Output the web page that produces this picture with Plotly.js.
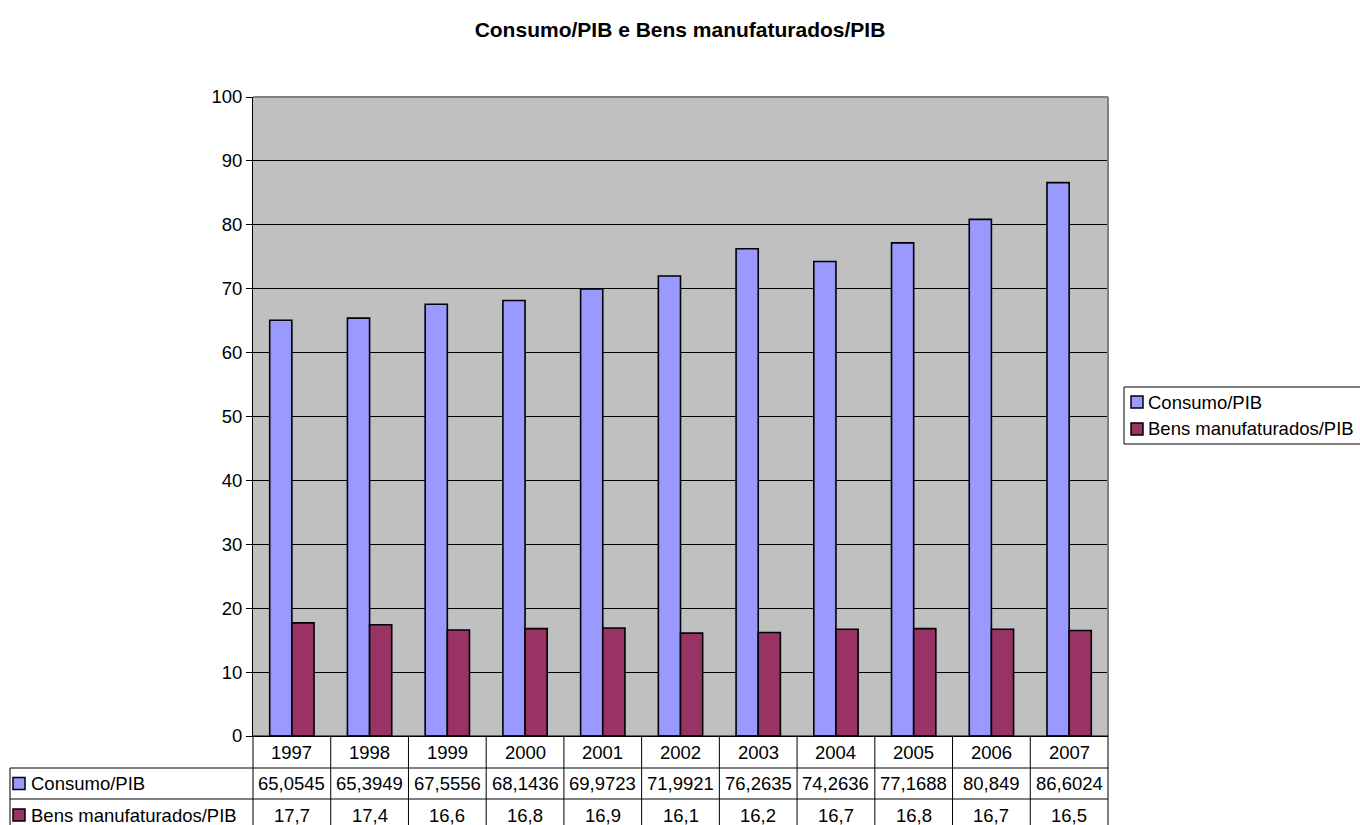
<!DOCTYPE html>
<html>
<head>
<meta charset="utf-8">
<script src="https://cdn.plot.ly/plotly-3.0.1.min.js"></script>
<style>html,body{margin:0;padding:0;background:#fff;}#chart{width:1360px;height:825px;}</style>
</head>
<body>
<div id="chart"></div>
<script>
const years = ["1997","1998","1999","2000","2001","2002","2003","2004","2005","2006","2007"];
const consumo = [65.0545, 65.3949, 67.5556, 68.1436, 69.9723, 71.9921, 76.2635, 74.2636, 77.1688, 80.849, 86.6024];
const bens = [17.7, 17.4, 16.6, 16.8, 16.9, 16.1, 16.2, 16.7, 16.8, 16.7, 16.5];
const seriesNames = ["Consumo/PIB", "Bens manufaturados/PIB"];
const seriesColors = ["#9999FF", "#993366"];
const chartTitle = "Consumo/PIB e Bens manufaturados/PIB";

const W = 1360, H = 825;
const L = 253, R = 1108, T = 97, B = 736;
const pw = R - L, ph = B - T;
const px = v => (v - L) / pw;
const py = v => (B - v) / ph;
const FONT = "Liberation Sans, Arial, sans-serif";
const FS = 18.5;
const fmt = v => String(v).replace('.', ',');

const traces = [
  {type:'bar', name:seriesNames[0], x:years, y:consumo,
   marker:{color:seriesColors[0], line:{color:'#000', width:1.6}}, hoverinfo:'x+y'},
  {type:'bar', name:seriesNames[1], x:years, y:bens,
   marker:{color:seriesColors[1], line:{color:'#000', width:1.6}}, hoverinfo:'x+y'}
];

const shapes = [];
const annotations = [];
const line = (x0,y0,x1,y1,color,w) => shapes.push({type:'line', xref:'paper', yref:'paper',
  x0:px(x0), y0:py(y0), x1:px(x1), y1:py(y1), line:{color:color||'#000', width:w||1}});

// plot-area top & right border
line(L, T, R, T, '#808080', 2);
line(R, T, R, B, '#808080', 2);

// data table grid
line(L, 736, R, 736);
line(10, 768, R, 768);
line(10, 799, R, 799);
line(10, 831, R, 831);
line(10, 768, 10, 831);
for (let k = 0; k <= years.length; k++) {
  const xx = L + k * pw / years.length;
  line(xx, 736, xx, 831);
}
const rowCenters = [752, 783.5, 815];
years.forEach((yr, i) => {
  annotations.push({xref:'x', yref:'paper', x:i, y:py(rowCenters[0]), text:yr, showarrow:false,
    xanchor:'center', yanchor:'middle', font:{family:FONT, size:FS, color:'#000'}});
  annotations.push({xref:'x', yref:'paper', x:i, y:py(rowCenters[1]), text:fmt(consumo[i]), showarrow:false,
    xanchor:'center', yanchor:'middle', font:{family:FONT, size:FS, color:'#000'}});
  annotations.push({xref:'x', yref:'paper', x:i, y:py(rowCenters[2]), text:fmt(bens[i]), showarrow:false,
    xanchor:'center', yanchor:'middle', font:{family:FONT, size:FS, color:'#000'}});
});
// row labels with swatches
[1,2].forEach((r, s) => {
  const c = rowCenters[r];
  shapes.push({type:'rect', xref:'paper', yref:'paper', x0:px(13), x1:px(25), y0:py(c-6), y1:py(c+6),
    fillcolor:seriesColors[s], line:{color:'#000', width:1.5}});
  annotations.push({xref:'paper', yref:'paper', x:px(29), y:py(c), text:seriesNames[s], showarrow:false,
    xanchor:'left', yanchor:'middle', font:{family:FONT, size:FS, color:'#000'}});
});

// legend (manual, to keep plot area fixed)
shapes.push({type:'rect', xref:'paper', yref:'paper', x0:px(1124), x1:px(1375), y0:py(387), y1:py(444),
  fillcolor:'#fff', line:{color:'#000', width:1}});
const legY = [402, 429];
legY.forEach((c, s) => {
  shapes.push({type:'rect', xref:'paper', yref:'paper', x0:px(1131), x1:px(1143), y0:py(c-6), y1:py(c+6),
    fillcolor:seriesColors[s], line:{color:'#000', width:1.5}});
  annotations.push({xref:'paper', yref:'paper', x:px(1146), y:py(c), text:seriesNames[s], showarrow:false,
    xanchor:'left', yanchor:'middle', font:{family:FONT, size:FS, color:'#000'}});
});

const layout = {
  width:W, height:H,
  margin:{l:L, r:W-R, t:T, b:H-B, autoexpand:false},
  paper_bgcolor:'#fff', plot_bgcolor:'#C0C0C0',
  showlegend:false,
  barmode:'group', bargap:0.43, bargroupgap:0,
  title:{text:'<b>'+chartTitle+'</b>', x:0.5, xref:'container', xanchor:'center',
    y:1-30/H, yref:'container', yanchor:'middle', font:{family:FONT, size:21, color:'#000'}},
  xaxis:{type:'category', showticklabels:false, ticks:'', showgrid:false, zeroline:false,
    showline:true, linecolor:'#000', linewidth:1, fixedrange:true},
  yaxis:{range:[0,100], dtick:10, tick0:0, ticks:'outside', ticklen:6, tickcolor:'#000',
    showgrid:true, gridcolor:'#000', gridwidth:1, zeroline:false, showline:true, linecolor:'#000',
    linewidth:1, tickfont:{family:FONT, size:FS, color:'#000'}, fixedrange:true},
  shapes:shapes, annotations:annotations
};
Plotly.newPlot('chart', traces, layout, {displayModeBar:false, staticPlot:true});
</script>
</body>
</html>
